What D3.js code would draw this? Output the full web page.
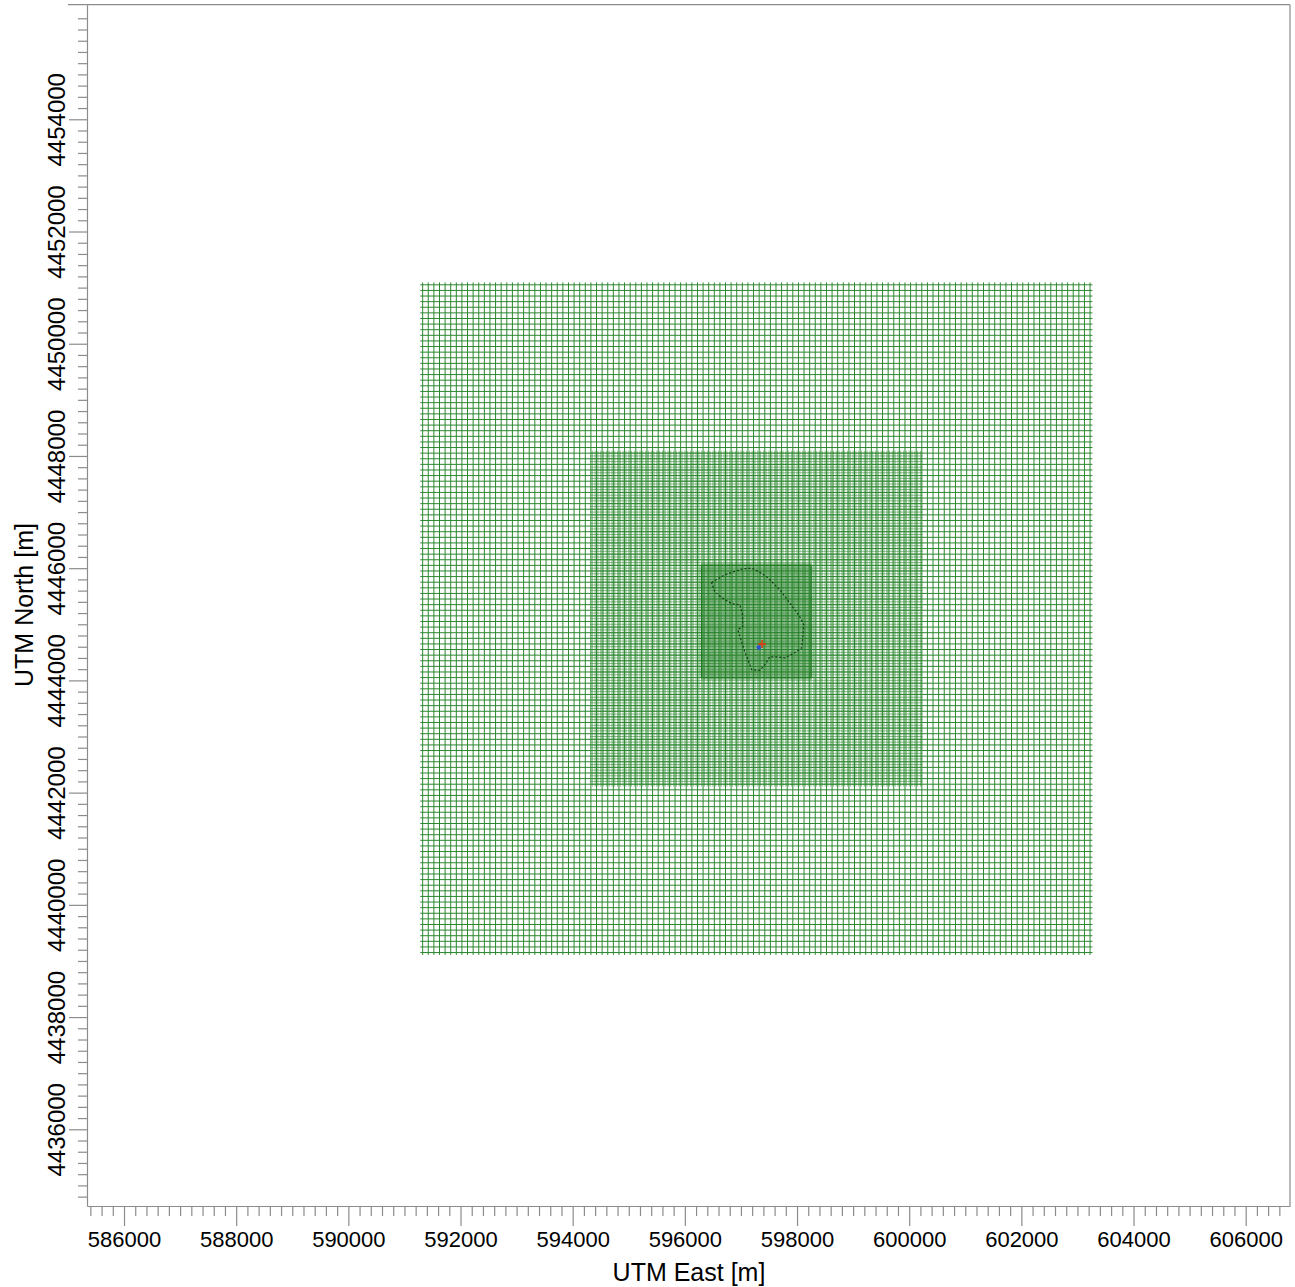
<!DOCTYPE html>
<html>
<head>
<meta charset="utf-8">
<script src="https://cdn.jsdelivr.net/npm/d3@7/dist/d3.min.js"></script>
<style>
  html, body { margin: 0; padding: 0; background: #fff; }
  svg { display: block; }
  text { font-family: "Liberation Sans", Arial, sans-serif; fill: #000; }
</style>
</head>
<body>
<svg id="chart" width="1295" height="1287"></svg>
<script>
// Axis ticks (UTM metres)
const xMajorTicks = [586000, 588000, 590000, 592000, 594000, 596000, 598000, 600000, 602000, 604000, 606000];
const yMajorTicks = [4436000, 4438000, 4440000, 4442000, 4444000, 4446000, 4448000, 4450000, 4452000, 4454000];
const minorStep = 200;

// Cartesian receptor grids: origin, far corner and spacing (m)
const gridNames   = ["outer", "middle", "inner"];
const gridX0      = [591325, 594350, 596300];
const gridX1      = [603225, 600200, 598250];
const gridY0      = [4439150, 4442150, 4444050];
const gridY1      = [4451050, 4448050, 4446050];
const gridSpacing = [100, 50, 25];

// Facility boundary vertices (UTM E, UTM N)
const boundaryX = [596475, 596713, 597033, 597194, 597336, 597479, 597693, 597871, 598049, 598121,
                   598103, 598085, 597960, 597782, 597639, 597515, 597426, 597336, 597194, 597069,
                   596944, 597033, 597028, 596980, 596837, 596659, 596534, 596475];
const boundaryY = [4445745, 4445883, 4445990, 4445998, 4445927, 4445829, 4445615, 4445383, 4445134, 4444991,
                   4444777, 4444581, 4444492, 4444403, 4444421, 4444421, 4444278, 4444180, 4444189, 4444510,
                   4444902, 4444965, 4445170, 4445348, 4445366, 4445473, 4445580, 4445745];

// Point source and building marker
const sourceX = [597377];
const sourceY = [4444647];
const buildingX = [597319];
const buildingY = [4444587];

const svg = d3.select("#chart");

const x = d3.scaleLinear().domain([585340, 606790]).range([87, 1290]);
const y = d3.scaleLinear().domain([4434633, 4456042]).range([1206, 4.7]);

// Receptor grids
const gridStyles = {
  outer:  { stroke: "#2c872f", width: 1,    opacity: 1,    over: 2.4 },
  middle: { stroke: "#2c872f", width: 0.55, opacity: 1,    over: 2.4 },
  inner:  { stroke: "#2a842d", width: 0.45, opacity: 0.9,  over: 2.4 }
};

const gridLayer = svg.append("g").attr("class", "grids");
gridNames.forEach((name, i) => {
  const st = gridStyles[name];
  const nx = Math.round((gridX1[i] - gridX0[i]) / gridSpacing[i]);
  const ny = Math.round((gridY1[i] - gridY0[i]) / gridSpacing[i]);
  const xs = d3.range(nx + 1).map(k => gridX0[i] + k * gridSpacing[i]);
  const ys = d3.range(ny + 1).map(k => gridY0[i] + k * gridSpacing[i]);
  const g = gridLayer.append("g")
    .attr("class", "grid-" + name)
    .attr("stroke", st.stroke)
    .attr("stroke-width", st.width)
    .attr("stroke-opacity", st.opacity);
  g.selectAll("line.v").data(xs).join("line")
    .attr("class", "v")
    .attr("x1", d => x(d)).attr("x2", d => x(d))
    .attr("y1", y(gridY1[i]) - st.over).attr("y2", y(gridY0[i]) + st.over);
  g.selectAll("line.h").data(ys).join("line")
    .attr("class", "h")
    .attr("y1", d => y(d)).attr("y2", d => y(d))
    .attr("x1", x(gridX0[i]) - st.over).attr("x2", x(gridX1[i]) + st.over);
});

// Inner grid outline, slightly heavier
gridLayer.append("rect")
  .attr("x", x(gridX0[2])).attr("y", y(gridY1[2]))
  .attr("width", x(gridX1[2]) - x(gridX0[2]))
  .attr("height", y(gridY0[2]) - y(gridY1[2]))
  .attr("fill", "none").attr("stroke", "#1f7a22").attr("stroke-width", 1.2);

// Facility boundary
const boundary = boundaryX.map((bx, i) => [bx, boundaryY[i]]);
svg.append("path")
  .datum(boundary)
  .attr("d", d3.line().x(d => x(d[0])).y(d => y(d[1])))
  .attr("fill", "none")
  .attr("stroke", "#123d14")
  .attr("stroke-width", 1.2)
  .attr("stroke-dasharray", "2,2");

// Building and source markers
svg.selectAll("circle.bldg").data(buildingX).join("circle")
  .attr("class", "bldg")
  .attr("cx", (d, i) => x(d)).attr("cy", (d, i) => y(buildingY[i]))
  .attr("r", 2.2).attr("fill", "#2a4fd0");
const src = svg.selectAll("g.src").data(sourceX).join("g")
  .attr("class", "src")
  .attr("transform", (d, i) => `translate(${x(d)},${y(sourceY[i])})`)
  .attr("stroke", "#e03a10").attr("stroke-width", 1.6);
src.append("line").attr("x1", -4).attr("x2", 4).attr("y1", 0).attr("y2", 0);
src.append("line").attr("x1", 0).attr("x2", 0).attr("y1", -4).attr("y2", 4);

// Frame
const frame = svg.append("g").attr("stroke", "#8c8c8c").attr("stroke-width", 1.2).attr("fill", "none");
frame.append("line").attr("x1", 68).attr("x2", 1290).attr("y1", 4.7).attr("y2", 4.7);
frame.append("line").attr("x1", 1290).attr("x2", 1290).attr("y1", 4.7).attr("y2", 1206);

// Axes
const [xa, xb] = x.domain();
const [ya, yb] = y.domain();
const xMinor = d3.range(Math.ceil(xa / minorStep) * minorStep, xb + 1, minorStep).filter(v => v % 2000 !== 0);
const yMinor = d3.range(Math.ceil(ya / minorStep) * minorStep, yb + 1, minorStep).filter(v => v % 2000 !== 0);

function styleAxis(g) {
  g.select(".domain").attr("stroke", "#8c8c8c").attr("stroke-width", 1.2);
  g.selectAll(".tick line").attr("stroke", "#8c8c8c").attr("stroke-width", 1.2);
}

svg.append("g")
  .attr("transform", "translate(0,1206)")
  .call(d3.axisBottom(x).tickValues(xMinor).tickSize(10).tickSizeOuter(0).tickFormat(""))
  .call(styleAxis);

const xAxis = svg.append("g")
  .attr("transform", "translate(0,1206)")
  .call(d3.axisBottom(x).tickValues(xMajorTicks).tickSize(20).tickSizeOuter(0).tickFormat(d3.format("d")))
  .call(styleAxis);
xAxis.select(".domain").remove();
xAxis.selectAll(".tick text")
  .attr("y", 41).attr("dy", 0)
  .style("font-size", "22px")
  .style("font-family", "'Liberation Sans', Arial, sans-serif")
  .attr("fill", "#000");

svg.append("g")
  .attr("transform", "translate(87,0)")
  .call(d3.axisLeft(y).tickValues(yMinor).tickSize(9).tickSizeOuter(0).tickFormat(""))
  .call(styleAxis);

const yAxis = svg.append("g")
  .attr("transform", "translate(87,0)")
  .call(d3.axisLeft(y).tickValues(yMajorTicks).tickSize(18).tickSizeOuter(0).tickFormat(d3.format("d")))
  .call(styleAxis);
yAxis.select(".domain").remove();
yAxis.selectAll(".tick text")
  .attr("x", 0).attr("y", 0).attr("dy", 0)
  .attr("text-anchor", "middle")
  .attr("transform", "translate(-22,0) rotate(-90)")
  .style("font-size", "24px")
  .style("font-family", "'Liberation Sans', Arial, sans-serif")
  .attr("fill", "#000");

// Axis titles
svg.append("text")
  .attr("x", 689).attr("y", 1281)
  .attr("text-anchor", "middle")
  .style("font-size", "25px")
  .text("UTM East [m]");

svg.append("text")
  .attr("transform", "translate(33,605) rotate(-90)")
  .attr("text-anchor", "middle")
  .style("font-size", "25px")
  .text("UTM North [m]");
</script>
</body>
</html>
